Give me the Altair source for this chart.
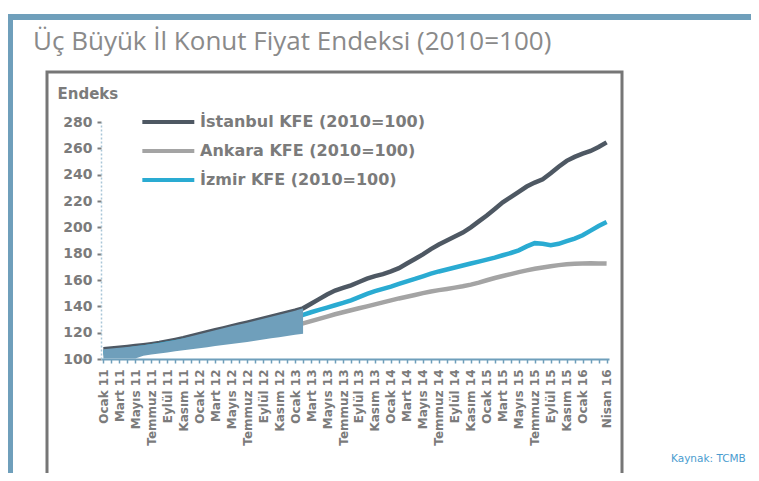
import altair as alt
import pandas as pd

# ---- data ----
month_names = ["Ocak", "Şubat", "Mart", "Nisan", "Mayıs", "Haziran",
               "Temmuz", "Ağustos", "Eylül", "Ekim", "Kasım", "Aralık"]
years = ["11", "12", "13", "14", "15", "16"]
months = [f"{m} {y}" for y in years for m in month_names][:64]  # Ocak 11 .. Nisan 16

shown_labels = [
    "Ocak 11", "Mart 11", "Mayıs 11", "Temmuz 11", "Eylül 11", "Kasım 11",
    "Ocak 12", "Mart 12", "Mayıs 12", "Temmuz 12", "Eylül 12", "Kasım 12",
    "Ocak 13", "Mart 13", "Mayıs 13", "Temmuz 13", "Eylül 13", "Kasım 13",
    "Ocak 14", "Mart 14", "Mayıs 14", "Temmuz 14", "Eylül 14", "Kasım 14",
    "Ocak 15", "Mart 15", "Mayıs 15", "Temmuz 15", "Eylül 15", "Kasım 15",
    "Ocak 16", "Nisan 16",
]

series_names = ["İstanbul KFE (2010=100)", "Ankara KFE (2010=100)", "İzmir KFE (2010=100)"]
series_colors = ["#4e5863", "#a4a4a4", "#2aabd2"]

istanbul = [107.5, 108.0, 108.6, 109.2, 109.8, 110.5, 111.3, 112.2, 113.3, 114.5,
            115.8, 117.3, 118.8, 120.4, 121.9, 123.3, 124.8, 126.2, 127.6, 129.1,
            130.6, 132.1, 133.6, 135.1, 136.7, 138.5, 142.0, 145.5, 149.0, 152.0,
            154.0, 156.0, 158.5, 161.0, 163.0, 164.5, 166.5, 169.0, 172.5, 176.0,
            179.5, 183.5, 187.0, 190.0, 193.0, 196.0, 200.0, 204.5, 209.0, 214.0,
            219.0, 223.0, 227.0, 231.0, 234.0, 236.5, 241.0, 246.0, 250.5, 253.5,
            256.0, 258.0, 261.0, 264.5]
ankara = [103.5, 104.3, 105.1, 105.9, 106.7, 107.5, 108.3, 109.1, 109.9, 110.7,
          111.5, 112.3, 113.1, 113.9, 114.8, 115.7, 116.6, 117.5, 118.5, 119.5,
          120.5, 121.6, 122.7, 124.0, 125.5, 127.0, 128.8, 130.5, 132.2, 134.0,
          135.5, 137.0, 138.5, 140.0, 141.5, 143.0, 144.5, 146.0, 147.3, 148.6,
          150.0, 151.3, 152.3, 153.2, 154.2, 155.2, 156.5, 158.0, 159.8, 161.5,
          163.0, 164.5, 166.0, 167.3, 168.5, 169.5, 170.5, 171.3, 172.0, 172.3,
          172.5, 172.8, 172.6, 172.5]
izmir = [104.5, 105.3, 106.1, 107.0, 107.9, 108.8, 109.7, 110.7, 111.7, 112.8,
         113.9, 115.0, 116.1, 117.3, 118.5, 119.7, 120.9, 122.1, 123.3, 124.6,
         125.9, 127.2, 128.6, 130.0, 131.6, 133.5, 135.5, 137.3, 139.0, 140.8,
         142.6, 144.6, 147.0, 149.5, 151.5, 153.3, 155.0, 157.0, 159.0, 160.8,
         162.8, 164.8, 166.5, 168.0, 169.5, 171.0, 172.5, 174.0, 175.5, 177.0,
         178.8, 180.5, 182.5, 185.5, 188.0, 187.5, 186.5, 187.5, 189.5, 191.5,
         194.0, 197.5, 201.0, 204.0]

# the solid blue overlay band on the left of the picture (lower edge)
band_low = [100.3, 100.3, 100.3, 100.3, 100.4, 102.5, 103.4, 104.2, 105.0, 105.8,
            106.6, 107.4, 108.2, 109.0, 109.8, 110.6, 111.4, 112.2, 113.0, 113.9,
            114.8, 115.7, 116.6, 117.5, 118.4, 119.2]

y_ticks = [100, 120, 140, 160, 180, 200, 220, 240, 260, 280]

title_text = "Üç Büyük İl Konut Fiyat Endeksi (2010=100)"
source_text = "Kaynak: TCMB"

# ---- tables ----
rows = []
for name, vals in zip(series_names, [istanbul, ankara, izmir]):
    for m, v in zip(months, vals):
        rows.append({"month": m, "series": name, "value": v})
df = pd.DataFrame(rows)
band_df = pd.DataFrame({"month": months[:len(band_low)], "value": band_low,
                        "high": istanbul[:len(band_low)]})
one = pd.DataFrame({"t": [title_text]})
src = pd.DataFrame({"t": [source_text]})

BLUE = "#6f9fbb"
GRAY = "#7b7b7b"
FONT = "DejaVu Sans"

labels_js = "[" + ",".join("'" + s + "'" for s in shown_labels) + "]"
x_scale = alt.Scale(domain=months, padding=0.3)
y_scale = alt.Scale(domain=[100, 280], nice=False, zero=False)

x_axis = alt.Axis(title=None, labelExpr=f"indexof({labels_js}, datum.label) >= 0 ? datum.label : ''",
                  labelAngle=270, labelAlign="right", labelBaseline="middle",
                  labelPadding=6, labelFont=FONT, labelFontSize=12,
                  labelFontWeight="bold", labelColor=GRAY, labelOverlap=False,
                  tickColor=BLUE, tickSize=4, tickWidth=1.5,
                  domainColor=BLUE, domainWidth=2, grid=False)

y_axis = alt.Axis(values=y_ticks, tickCount=10, title="Endeks", titleAngle=0, titleAlign="left",
                  titleBaseline="middle", titleX=-44, titleY=-29,
                  titleFont=FONT, titleFontSize=15, titleFontWeight="bold",
                  titleColor=GRAY, labelFont=FONT, labelFontSize=14,
                  labelFontWeight="bold", labelColor=GRAY, labelPadding=5,
                  labelOverlap=False, labelFlush=False,
                  tickColor=GRAY, tickSize=4, tickWidth=2,
                  domainColor="#a9c6d8", domainWidth=1.5, domainDash=[2, 2],
                  grid=False)

lines = alt.Chart(df).mark_line(strokeWidth=4.5).encode(
    x=alt.X("month:O", scale=x_scale, sort=months, axis=x_axis),
    y=alt.Y("value:Q", scale=y_scale, axis=y_axis),
    color=alt.Color("series:N", sort=series_names,
                    scale=alt.Scale(domain=series_names, range=series_colors),
                    legend=alt.Legend(title=None, orient="none", legendX=39, legendY=-11,
                                      symbolType="M-1,0H5", symbolSize=300,
                                      symbolStrokeWidth=4, labelFont=FONT,
                                      labelFontSize=16, labelFontWeight="bold",
                                      labelColor=GRAY, labelOffset=38, labelLimit=400,
                                      rowPadding=10)),
)

band = alt.Chart(band_df).mark_area(color=BLUE, opacity=1).encode(
    x=alt.X("month:O", scale=x_scale, sort=months, axis=x_axis),
    y=alt.Y("value:Q", scale=y_scale, axis=y_axis),
    y2="high:Q",
)

top_bar = alt.Chart(one).mark_rect(color=BLUE).encode(
    x=alt.value(-93), x2=alt.value(650), y=alt.value(-108), y2=alt.value(-102))
left_bar = alt.Chart(one).mark_rect(color=BLUE).encode(
    x=alt.value(-93), x2=alt.value(-88), y=alt.value(-108), y2=alt.value(360))
inner_box = alt.Chart(one).mark_rect(fill=None, stroke="#767676", strokeWidth=3).encode(
    x=alt.value(-54), x2=alt.value(521), y=alt.value(-50), y2=alt.value(380))

title = alt.Chart(one).mark_text(align="left", baseline="alphabetic", font="Open Sans",
                                 fontSize=26, color="#8a8a8a").encode(
    text="t:N", x=alt.value(-68), y=alt.value(-72))
source = alt.Chart(src).mark_text(align="left", baseline="alphabetic", font=FONT,
                                  fontSize=10.5, color="#4a9ccf").encode(
    text="t:N", x=alt.value(570), y=alt.value(340))

chart = alt.layer(inner_box, top_bar, left_bar, lines, band, title, source).properties(
    width=508, height=237,
    autosize=alt.AutoSizeParams(type="none"),
    padding={"left": 93, "top": 114, "right": 142, "bottom": 114},
).configure_view(stroke=None)

chart.save("out.html", embed_options={"renderer": "svg", "actions": False})
